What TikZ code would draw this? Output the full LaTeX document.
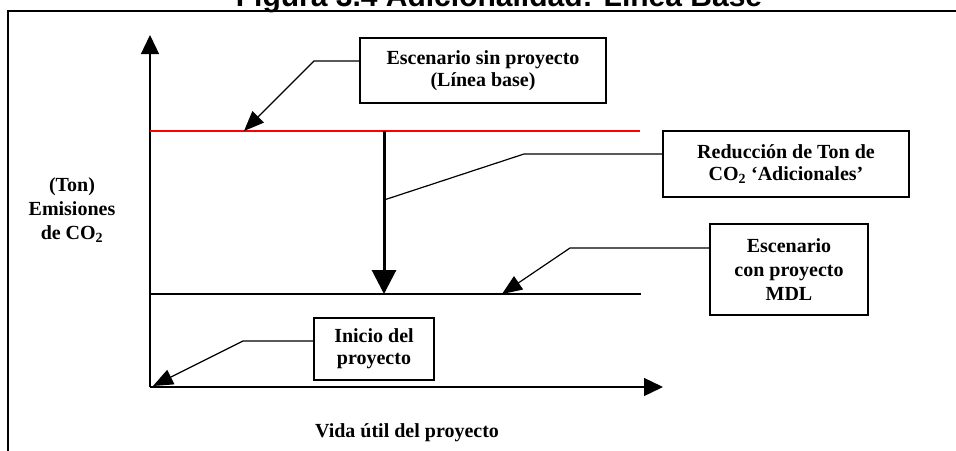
\documentclass[tikz,border=0pt]{standalone}
\usepackage{fontspec}
\setmainfont{Liberation Serif}
\newfontfamily\titlefont{Liberation Sans}
\usetikzlibrary{arrows.meta}
\begin{document}
\begin{tikzpicture}[x=1pt, y=-1pt,
    box/.style={draw, fill=white, line width=1.3pt, align=center, inner sep=0pt,
      font=\fontsize{20}{22}\selectfont\bfseries},
    axis/.style={line width=1.3pt, -{Triangle[length=19pt, width=18pt]}},
    lead/.style={line width=1.2pt},
    tip/.style={-{Triangle[length=20pt, width=16pt]}}]
  \useasboundingbox (0,0) rectangle (956,450);
  \coordinate (o) at (150,387);
  \coordinate (ytop) at (150,35);
  \coordinate (xend) at (663,387);
  \coordinate (b1) at (150,131);
  \coordinate (b2) at (640,131);
  \coordinate (m1) at (150,294);
  \coordinate (m2) at (641,294);
  \coordinate (r1) at (384,131);
  \coordinate (r2) at (384,294);
  % frame and title
  \draw[line width=1.5pt] (8,452) -- (8,11) -- (960,11);
  \node[anchor=base, font=\fontsize{30}{30}\selectfont\titlefont\bfseries] (title) at (499,6) {Figura 3.4 Adicionalidad: Línea Base};
  % axes and lines
  \draw[axis] (o) -- (ytop);
  \draw[axis] (o) -- (xend);
  \draw[red, line width=1.2pt] (b1) -- (b2);
  \draw[lead] (m1) -- (m2);
  \draw[line width=3pt, -{Triangle[length=24pt, width=24pt]}] (r1) -- (r2);
  % boxes
  \node[box, minimum width=246pt, minimum height=65pt] (sin) at (483,70.5) {Escenario sin proyecto\\(Línea base)};
  \node[box, minimum width=246pt, minimum height=66pt] (reduc) at (786,164) {Reducción de Ton de\\CO\textsubscript{2} ‘Adicionales’};
  \node[box, minimum width=158pt, minimum height=91pt] (con) at (789,269.5) {Escenario\\[2pt]con proyecto\\[2pt]MDL};
  \node[box, minimum width=120pt, minimum height=62pt] (inicio) at (374,349) {Inicio del\\proyecto};
  % leaders
  \coordinate (k1) at (314,61);
  \coordinate (t1) at (244,131);
  \coordinate (k2) at (524,154);
  \coordinate (t2) at (384,200);
  \coordinate (k3) at (570,248);
  \coordinate (t3) at (502,294);
  \coordinate (k4) at (243,341);
  \coordinate (t4) at (153,386);
  \draw[lead, tip] (sin.west |- k1) -- (k1) -- (t1);
  \draw[lead] (reduc.west |- k2) -- (k2) -- (t2);
  \draw[lead, tip] (con.west |- k3) -- (k3) -- (t3);
  \draw[lead, tip] (inicio.west |- k4) -- (k4) -- (t4);
  % axis labels
  \node[align=center, font=\fontsize{20}{24}\selectfont\bfseries] (ylab) at (72,210) {(Ton)\\Emisiones\\de CO\textsubscript{2}};
  \node[anchor=base, font=\fontsize{20}{24}\selectfont\bfseries] (xlab) at (407,437) {Vida útil del proyecto};
\end{tikzpicture}
\end{document}
